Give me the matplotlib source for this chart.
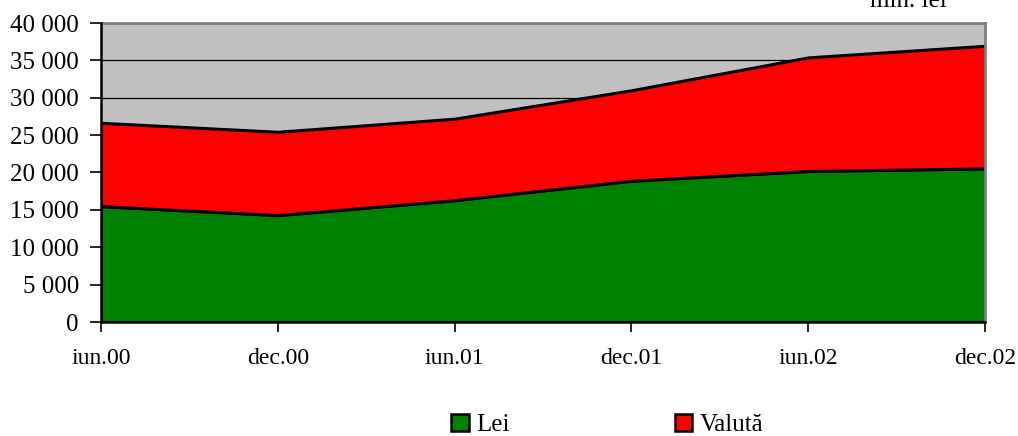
import matplotlib
matplotlib.use("Agg")
import matplotlib.pyplot as plt
from matplotlib.patches import Patch

plt.rcParams['font.family'] = ['Liberation Serif', 'DejaVu Serif']

periods = ["iun.00", "dec.00", "iun.01", "dec.01", "iun.02", "dec.02"]
lei = [15500, 14300, 16300, 18900, 20200, 20550]
valuta = [11150, 11150, 10900, 12100, 15200, 16400]
yticks = [0, 5000, 10000, 15000, 20000, 25000, 30000, 35000, 40000]
ytick_labels = ["0", "5 000", "10 000", "15 000", "20 000", "25 000", "30 000", "35 000", "40 000"]

fig = plt.figure(figsize=(10.18, 4.36), dpi=100)
ax = fig.add_axes([101 / 1018, 1 - 322 / 436, (985 - 101) / 1018, (322 - 23) / 436])
ax.set_facecolor("#C0C0C0")

x = list(range(len(periods)))
ax.stackplot(x, lei, valuta, colors=["#008000", "#FF0000"],
             edgecolor="black", linewidth=2.2, zorder=2)

ax.set_xlim(0, len(periods) - 1)
ax.set_ylim(0, 40000)
ax.set_yticks(yticks)
ax.set_yticklabels(ytick_labels, fontsize=18)
ax.set_xticks(x)
ax.set_xticklabels(periods, fontsize=17)
ax.yaxis.grid(True, color="black", linewidth=0.9)
ax.set_axisbelow(True)

ax.tick_params(axis="y", direction="out", length=8, width=1.2, pad=8)
ax.tick_params(axis="x", direction="out", length=7, width=1.2, pad=12)

for side in ("top", "right"):
    ax.spines[side].set_color("#808080")
    ax.spines[side].set_linewidth(2)
for side in ("left", "bottom"):
    ax.spines[side].set_color("black")
    ax.spines[side].set_linewidth(1.8)
    ax.spines[side].set_zorder(3)

fig.text(908 / 1018, 1 - 7 / 436, "mln. lei", fontsize=18, ha="center", va="baseline")

handles = [Patch(facecolor="#008000", edgecolor="black", linewidth=1.8),
           Patch(facecolor="#FF0000", edgecolor="black", linewidth=1.8)]
fig.legend(handles, ["Lei", "Valută"], loc="center left",
           bbox_to_anchor=(451 / 1018, 1 - 425 / 436), ncol=2, frameon=False,
           fontsize=18, handlelength=0.7, handleheight=0.7, handletextpad=0.3,
           columnspacing=6.6, borderaxespad=0, borderpad=0)

fig.savefig("out.png", dpi=100)
